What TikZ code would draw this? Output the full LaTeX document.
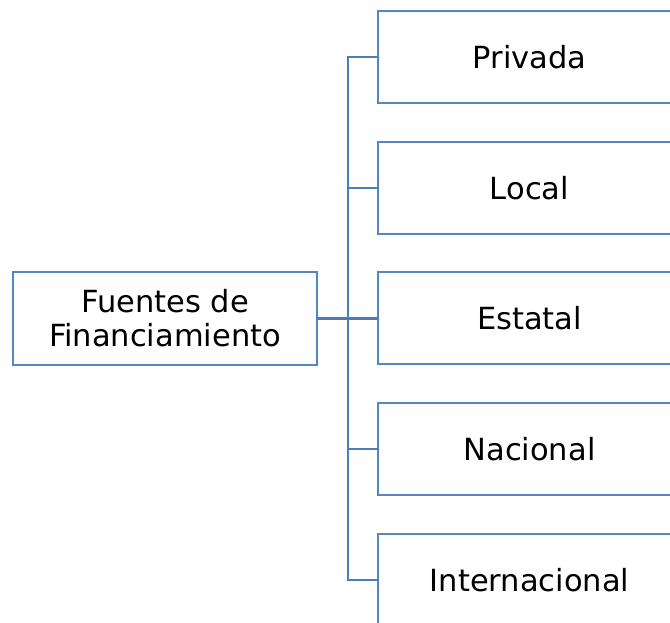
\documentclass[tikz,border=0pt]{standalone}
\usepackage{fontspec}
\setmainfont{DejaVu Sans}
\definecolor{boxblue}{RGB}{84,134,192}
\definecolor{linkblue}{RGB}{74,126,187}
\begin{document}
\begin{tikzpicture}[x=1pt,y=1pt,
  box/.style={draw=boxblue, line width=2pt, fill=white, inner sep=0pt, outer sep=0pt,
    minimum width=304pt, minimum height=93pt, align=center,
    font=\fontsize{30.5}{34}\selectfont, text=black},
  conn/.style={draw=linkblue, line width=2.2pt}]
\useasboundingbox (0,0) rectangle (670,622);
\clip (0,0) rectangle (670,622);
\fill[white] (0,0) rectangle (670,622);
\node[box] (L) at (165,303.5) {Fuentes de\\Financiamiento};
\node[box, minimum width=303pt, minimum height=92pt] (b1) at (529.5,565) {Privada};
\node[box, minimum width=303pt, minimum height=92pt] (b2) at (529.5,434) {Local};
\node[box, minimum width=303pt, minimum height=92pt] (b3) at (529.5,303.5) {Estatal};
\node[box, minimum width=303pt, minimum height=92pt] (b4) at (529.5,173) {Nacional};
\node[box, minimum width=303pt, minimum height=92pt] (b5) at (529.5,42) {Internacional};
\coordinate (sp) at (348,303.5);
\draw[conn] (b1.west) -- (b1.west -| sp) -- (b5.west -| sp) -- (b5.west);
\foreach \b in {b2,b3,b4} \draw[conn] (\b.west) -- (\b.west -| sp);
\draw[conn] (L.east) -- (L.east -| sp);
\end{tikzpicture}
\end{document}
